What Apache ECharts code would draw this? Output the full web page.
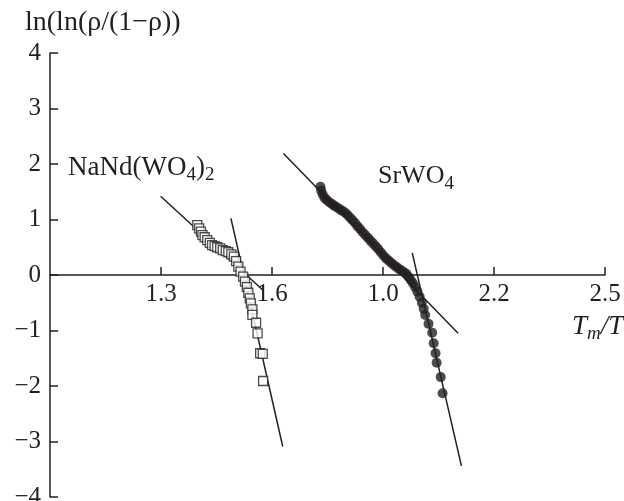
<!DOCTYPE html>
<html>
<head>
<meta charset="utf-8">
<script src="https://cdn.jsdelivr.net/npm/echarts@6/dist/echarts.min.js"></script>
<style>
  html, body { margin: 0; padding: 0; background: #fff; }
  #chart { width: 624px; height: 501px; }
</style>
</head>
<body>
<div id="chart"></div>
<script>
// x ticks: the 1.9 tick is printed as "1.0" in the original figure
var xTickValues = [1.0, 1.3, 1.6, 1.9, 2.2, 2.5];
var xTickLabels = ["1.0", "1.3", "1.6", "1.0", "2.2", "2.5"];

var nandPoints = [
  [1.398, 0.90], [1.403, 0.84], [1.408, 0.78], [1.412, 0.72], [1.418, 0.68],
  [1.425, 0.63], [1.432, 0.58], [1.438, 0.54], [1.445, 0.52], [1.452, 0.50],
  [1.460, 0.48], [1.467, 0.45], [1.475, 0.43], [1.482, 0.41], [1.490, 0.37],
  [1.497, 0.33], [1.503, 0.25], [1.509, 0.15], [1.515, 0.06], [1.522, -0.03],
  [1.527, -0.12], [1.532, -0.22], [1.536, -0.32], [1.540, -0.42], [1.543, -0.51],
  [1.547, -0.62], [1.547, -0.72], [1.557, -0.86], [1.561, -1.05], [1.568, -1.41],
  [1.575, -1.42], [1.576, -1.91]
];

var srwoPoints = [
  [1.731, 1.59], [1.733, 1.52], [1.737, 1.45], [1.742, 1.39], [1.748, 1.35],
  [1.755, 1.31], [1.762, 1.28], [1.768, 1.25], [1.775, 1.22], [1.782, 1.19],
  [1.789, 1.16], [1.796, 1.13], [1.803, 1.09], [1.810, 1.04], [1.817, 0.99],
  [1.824, 0.94], [1.831, 0.88], [1.838, 0.83], [1.845, 0.77], [1.852, 0.72],
  [1.859, 0.67], [1.866, 0.62], [1.873, 0.57], [1.880, 0.52], [1.887, 0.47],
  [1.894, 0.41], [1.901, 0.35], [1.908, 0.30], [1.915, 0.26], [1.922, 0.22],
  [1.929, 0.18], [1.936, 0.15], [1.943, 0.11], [1.950, 0.08], [1.957, 0.05],
  [1.963, 0.02], [1.969, -0.03], [1.975, -0.09], [1.981, -0.15], [1.987, -0.22],
  [1.993, -0.30], [1.999, -0.39], [2.005, -0.50], [2.010, -0.61], [2.014, -0.72],
  [2.023, -0.88], [2.033, -1.04], [2.037, -1.23], [2.042, -1.41], [2.045, -1.58],
  [2.056, -1.84], [2.061, -2.13]
];

// straight fit lines (end points)
var nandFitA = [[1.299, 1.42], [1.575, -0.27]];
var nandFitB = [[1.489, 1.02], [1.629, -3.09]];
var srwoFitA = [[1.631, 2.19], [2.103, -1.05]];
var srwoFitB = [[1.979, 0.40], [2.112, -3.44]];

var ink = "#231f20";
var serif = "Liberation Serif";

var chart = echarts.init(document.getElementById("chart"));

function fitLine(data) {
  return {
    type: "line",
    data: data,
    symbol: "none",
    silent: true,
    lineStyle: { color: ink, width: 1.5 },
    z: 1
  };
}

chart.setOption({
  backgroundColor: "#fff",
  animation: false,
  grid: { left: 50, right: 19, top: 53, bottom: 4, containLabel: false, outerBoundsMode: "none" },
  xAxis: {
    type: "value",
    min: 1.0,
    max: 2.5,
    interval: 0.3,
    // x axis sits on y = 0, half way up the plot
    offset: -222,
    axisLine: { onZero: false, lineStyle: { color: ink, width: 1.5 } },
    axisTick: { inside: true, length: 8, lineStyle: { color: ink, width: 1.5 } },
    splitLine: { show: false },
    axisLabel: {
      showMinLabel: false,
      margin: 7,
      color: ink,
      fontFamily: serif,
      fontSize: 25,
      formatter: function (v) {
        var best = 0;
        for (var i = 0; i < xTickValues.length; i++) {
          if (Math.abs(xTickValues[i] - v) < Math.abs(xTickValues[best] - v)) best = i;
        }
        return xTickLabels[best];
      }
    }
  },
  yAxis: {
    type: "value",
    min: -4,
    max: 4,
    interval: 1,
    axisLine: { onZero: false, lineStyle: { color: ink, width: 1.5 } },
    axisTick: { inside: true, length: 8, lineStyle: { color: ink, width: 1.5 } },
    splitLine: { show: false },
    axisLabel: {
      margin: 9,
      color: ink,
      fontFamily: serif,
      fontSize: 25,
      formatter: function (v) {
        return String(v).replace("-", "\u2212");
      }
    }
  },
  graphic: [
    {
      type: "text",
      left: 25,
      top: 9,
      style: { text: "ln(ln(\u03c1/(1\u2212\u03c1))", font: "28px " + serif, fill: ink }
    },
    {
      type: "text",
      left: 68,
      top: 154,
      style: {
        text: "{n|NaNd(WO}{s|4}{n|)}{s|2}",
        rich: {
          n: { font: "27px " + serif, fill: ink },
          s: { font: "19px " + serif, fill: ink, padding: [16, 0, 0, 0] }
        }
      }
    },
    {
      type: "text",
      left: 378,
      top: 163,
      style: {
        text: "{n|SrWO}{s|4}",
        rich: {
          n: { font: "26px " + serif, fill: ink },
          s: { font: "19px " + serif, fill: ink, padding: [16, 0, 0, 0] }
        }
      }
    },
    {
      type: "text",
      left: 572,
      top: 313,
      style: {
        text: "{n|T}{s|m}{r|/T}",
        rich: {
          n: { font: "italic 27px " + serif, fill: ink },
          s: { font: "italic 19px " + serif, fill: ink, padding: [14, 0, 0, 0] },
          r: { font: "italic 27px " + serif, fill: ink }
        }
      }
    }
  ],
  series: [
    fitLine(nandFitA),
    fitLine(nandFitB),
    fitLine(srwoFitA),
    fitLine(srwoFitB),
    {
      name: "NaNd(WO4)2",
      type: "scatter",
      data: nandPoints,
      symbol: "rect",
      symbolSize: 9,
      itemStyle: { color: "#fff", borderColor: ink, borderWidth: 1.3 },
      z: 3
    },
    {
      name: "SrWO4",
      type: "scatter",
      data: srwoPoints,
      symbol: "circle",
      symbolSize: 10,
      itemStyle: { color: ink },
      z: 3
    }
  ]
});
</script>
</body>
</html>
